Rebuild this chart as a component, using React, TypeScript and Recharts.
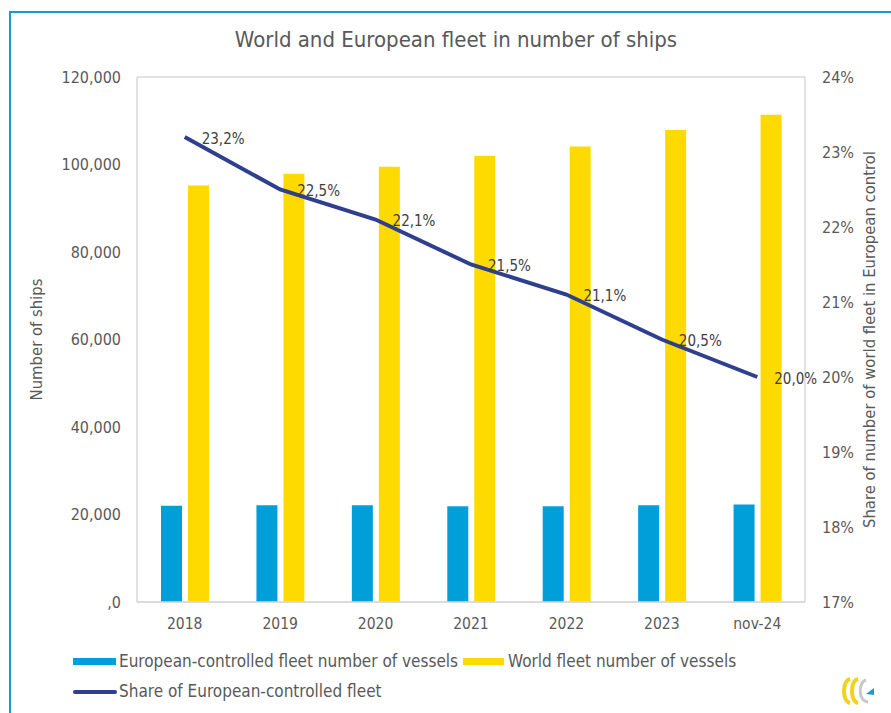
import React from 'react';
import { ComposedChart, Bar, Line, XAxis, YAxis, CartesianGrid, LabelList } from 'recharts';

const years = ['2018', '2019', '2020', '2021', '2022', '2023', 'nov-24'];
const europeanFleet = [22000, 22100, 22100, 21900, 21900, 22100, 22300];
const worldFleet = [95200, 97900, 99500, 102000, 104100, 107900, 111400];
const europeanShare = [23.2, 22.5, 22.1, 21.5, 21.1, 20.5, 20.0];
const leftTicks = [0, 20000, 40000, 60000, 80000, 100000, 120000];
const rightTicks = [17, 18, 19, 20, 21, 22, 23, 24];

const BLUE = '#009FDA';
const YELLOW = '#FFDA00';
const NAVY = '#2E3F8E';
const GREY_TEXT = '#595959';
const FONT = '"DejaVu Sans Condensed", "DejaVu Sans", sans-serif';

const data = years.map((y, i) => ({
  year: y,
  european: europeanFleet[i],
  world: worldFleet[i],
  share: europeanShare[i],
}));

const fmtLeft = (v: number) => (v === 0 ? ',0' : v.toLocaleString('en-US'));
const fmtPct = (v: number) => v.toFixed(1).replace('.', ',') + '%';

const ShareLabel = (props: any) => {
  const { x, y, value } = props;
  return (
    <text x={x + 17} y={y + 2} dominantBaseline="middle" fill="#404040" fontSize={15} fontFamily={FONT}>
      {fmtPct(value)}
    </text>
  );
};

export default function App() {
  const tickStyle = { fill: GREY_TEXT, fontSize: 16, fontFamily: FONT };
  const labelStyle = { fill: GREY_TEXT, fontSize: 16.5, fontFamily: FONT, textAnchor: 'middle' as const };
  return (
    <div style={{ position: 'absolute', left: 0, top: 0, width: 891, height: 713, background: '#fff', overflow: 'hidden' }}>
      {/* frame */}
      <div style={{ position: 'absolute', left: 9, top: 11, width: 900, height: 720, borderLeft: '2px solid #1A9BD0', borderTop: '2px solid #1A9BD0' }} />

      <div style={{ position: 'absolute', left: 0, top: 27, width: 912, textAlign: 'center', fontFamily: FONT, fontSize: 22, color: GREY_TEXT }}>
        World and European fleet in number of ships
      </div>

      <div style={{ position: 'absolute', left: 0, top: 0 }}>
        <ComposedChart width={891} height={713} data={data} margin={{ top: 77, right: 10, bottom: 81, left: 9 }} barGap={6}>
          <CartesianGrid vertical={false} stroke="#D9D9D9" strokeWidth={1.5} />
          <XAxis dataKey="year" tick={{ ...tickStyle, fontSize: 15.5 }} tickLine={false} axisLine={{ stroke: '#D9D9D9', strokeWidth: 1.5 }} tickMargin={10} height={30} />
          <YAxis
            yAxisId="left"
            domain={[0, 120000]}
            ticks={leftTicks}
            tickFormatter={fmtLeft}
            tick={tickStyle}
            tickLine={false}
            tickSize={0}
            tickMargin={16}
            axisLine={{ stroke: '#D9D9D9', strokeWidth: 1.5 }}
            width={128}
            label={{ value: 'Number of ships', angle: -90, position: 'insideLeft', offset: 27, style: labelStyle }}
          />
          <YAxis
            yAxisId="right"
            orientation="right"
            domain={[17, 24]}
            ticks={rightTicks}
            tickFormatter={(v: number) => `${v}%`}
            tick={tickStyle}
            tickLine={false}
            tickSize={0}
            tickMargin={17}
            axisLine={{ stroke: '#D9D9D9', strokeWidth: 1.5 }}
            width={76}
            label={{ value: 'Share of number of world fleet in European control', angle: -90, position: 'insideRight', offset: 12, style: labelStyle }}
          />
          <Bar yAxisId="left" dataKey="european" name="European-controlled fleet number of vessels" fill={BLUE} barSize={21} isAnimationActive={false} />
          <Bar yAxisId="left" dataKey="world" name="World fleet number of vessels" fill={YELLOW} barSize={21} isAnimationActive={false} />
          <Line yAxisId="right" dataKey="share" name="Share of European-controlled fleet" stroke={NAVY} strokeWidth={4} dot={false} isAnimationActive={false}>
            <LabelList dataKey="share" content={ShareLabel} />
          </Line>
        </ComposedChart>
      </div>

      {/* legend */}
      <div style={{ position: 'absolute', left: 73, top: 651, fontFamily: FONT, fontSize: 17, color: GREY_TEXT, lineHeight: '21px' }}>
        <div style={{ display: 'flex', alignItems: 'center' }}>
          <span style={{ display: 'inline-block', width: 43, height: 7, background: BLUE, marginRight: 3 }} />
          <span>European-controlled fleet number of vessels</span>
          <span style={{ display: 'inline-block', width: 41, height: 7, background: YELLOW, margin: '0 4px 0 5px' }} />
          <span>World fleet number of vessels</span>
        </div>
        <div style={{ display: 'flex', alignItems: 'center', marginTop: 9 }}>
          <span style={{ display: 'inline-block', width: 44, height: 4, background: NAVY, borderRadius: 2, marginRight: 2 }} />
          <span>Share of European-controlled fleet</span>
        </div>
      </div>

      {/* logo */}
      <svg style={{ position: 'absolute', left: 840, top: 676 }} width={40} height={30} viewBox="0 0 40 30">
        <path d="M10 3 C2 5 2 25 10 27" stroke="#F2D21B" strokeWidth={4} fill="none" />
        <path d="M18 3 C10 5 10 25 18 27" stroke="#F2D21B" strokeWidth={4} fill="none" />
        <path d="M26 4 C18 6 18 25 28 26" stroke="#C8C8C8" strokeWidth={3} fill="none" />
        <polygon points="26,18 34,12 34,19" fill="#1A9BD0" />
      </svg>
    </div>
  );
}
